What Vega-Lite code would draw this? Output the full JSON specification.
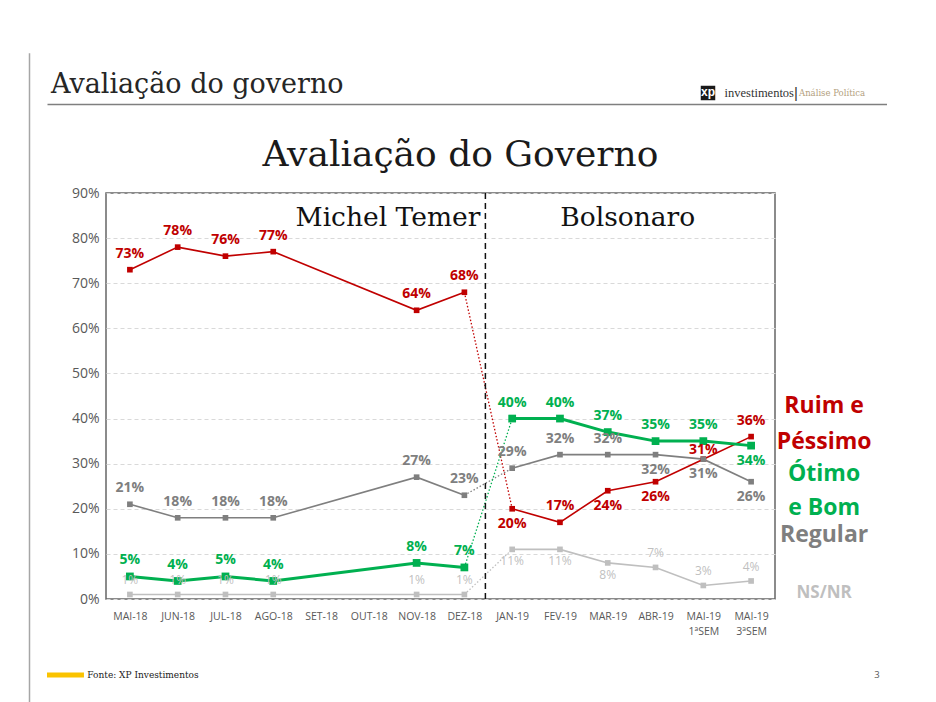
{
  "$schema": "https://vega.github.io/schema/vega-lite/v6.json",
  "background": "white",
  "padding": {"left": 28, "top": 52, "right": 0, "bottom": 0},
  "config": {"view": {"stroke": null}, "font": "Open Sans"},
  "datasets": {
    "avaliacao": [
      {"mes": "MAI-18", "periodo": "Temer", "serie": "Ruim e Péssimo", "valor": 0.73},
      {"mes": "JUN-18", "periodo": "Temer", "serie": "Ruim e Péssimo", "valor": 0.78},
      {"mes": "JUL-18", "periodo": "Temer", "serie": "Ruim e Péssimo", "valor": 0.76},
      {"mes": "AGO-18", "periodo": "Temer", "serie": "Ruim e Péssimo", "valor": 0.77},
      {"mes": "NOV-18", "periodo": "Temer", "serie": "Ruim e Péssimo", "valor": 0.64},
      {"mes": "DEZ-18", "periodo": "Temer", "serie": "Ruim e Péssimo", "valor": 0.68},
      {"mes": "JAN-19", "periodo": "Bolsonaro", "serie": "Ruim e Péssimo", "valor": 0.20},
      {"mes": "FEV-19", "periodo": "Bolsonaro", "serie": "Ruim e Péssimo", "valor": 0.17},
      {"mes": "MAR-19", "periodo": "Bolsonaro", "serie": "Ruim e Péssimo", "valor": 0.24},
      {"mes": "ABR-19", "periodo": "Bolsonaro", "serie": "Ruim e Péssimo", "valor": 0.26},
      {"mes": "MAI-19 1ªSEM", "periodo": "Bolsonaro", "serie": "Ruim e Péssimo", "valor": 0.31},
      {"mes": "MAI-19 3ªSEM", "periodo": "Bolsonaro", "serie": "Ruim e Péssimo", "valor": 0.36},
      {"mes": "MAI-18", "periodo": "Temer", "serie": "Regular", "valor": 0.21},
      {"mes": "JUN-18", "periodo": "Temer", "serie": "Regular", "valor": 0.18},
      {"mes": "JUL-18", "periodo": "Temer", "serie": "Regular", "valor": 0.18},
      {"mes": "AGO-18", "periodo": "Temer", "serie": "Regular", "valor": 0.18},
      {"mes": "NOV-18", "periodo": "Temer", "serie": "Regular", "valor": 0.27},
      {"mes": "DEZ-18", "periodo": "Temer", "serie": "Regular", "valor": 0.23},
      {"mes": "JAN-19", "periodo": "Bolsonaro", "serie": "Regular", "valor": 0.29},
      {"mes": "FEV-19", "periodo": "Bolsonaro", "serie": "Regular", "valor": 0.32},
      {"mes": "MAR-19", "periodo": "Bolsonaro", "serie": "Regular", "valor": 0.32},
      {"mes": "ABR-19", "periodo": "Bolsonaro", "serie": "Regular", "valor": 0.32},
      {"mes": "MAI-19 1ªSEM", "periodo": "Bolsonaro", "serie": "Regular", "valor": 0.31},
      {"mes": "MAI-19 3ªSEM", "periodo": "Bolsonaro", "serie": "Regular", "valor": 0.26},
      {"mes": "MAI-18", "periodo": "Temer", "serie": "NS/NR", "valor": 0.01},
      {"mes": "JUN-18", "periodo": "Temer", "serie": "NS/NR", "valor": 0.01},
      {"mes": "JUL-18", "periodo": "Temer", "serie": "NS/NR", "valor": 0.01},
      {"mes": "AGO-18", "periodo": "Temer", "serie": "NS/NR", "valor": 0.01},
      {"mes": "NOV-18", "periodo": "Temer", "serie": "NS/NR", "valor": 0.01},
      {"mes": "DEZ-18", "periodo": "Temer", "serie": "NS/NR", "valor": 0.01},
      {"mes": "JAN-19", "periodo": "Bolsonaro", "serie": "NS/NR", "valor": 0.11},
      {"mes": "FEV-19", "periodo": "Bolsonaro", "serie": "NS/NR", "valor": 0.11},
      {"mes": "MAR-19", "periodo": "Bolsonaro", "serie": "NS/NR", "valor": 0.08},
      {"mes": "ABR-19", "periodo": "Bolsonaro", "serie": "NS/NR", "valor": 0.07},
      {"mes": "MAI-19 1ªSEM", "periodo": "Bolsonaro", "serie": "NS/NR", "valor": 0.03},
      {"mes": "MAI-19 3ªSEM", "periodo": "Bolsonaro", "serie": "NS/NR", "valor": 0.04},
      {"mes": "MAI-18", "periodo": "Temer", "serie": "Ótimo e Bom", "valor": 0.05},
      {"mes": "JUN-18", "periodo": "Temer", "serie": "Ótimo e Bom", "valor": 0.04},
      {"mes": "JUL-18", "periodo": "Temer", "serie": "Ótimo e Bom", "valor": 0.05},
      {"mes": "AGO-18", "periodo": "Temer", "serie": "Ótimo e Bom", "valor": 0.04},
      {"mes": "NOV-18", "periodo": "Temer", "serie": "Ótimo e Bom", "valor": 0.08},
      {"mes": "DEZ-18", "periodo": "Temer", "serie": "Ótimo e Bom", "valor": 0.07},
      {"mes": "JAN-19", "periodo": "Bolsonaro", "serie": "Ótimo e Bom", "valor": 0.40},
      {"mes": "FEV-19", "periodo": "Bolsonaro", "serie": "Ótimo e Bom", "valor": 0.40},
      {"mes": "MAR-19", "periodo": "Bolsonaro", "serie": "Ótimo e Bom", "valor": 0.37},
      {"mes": "ABR-19", "periodo": "Bolsonaro", "serie": "Ótimo e Bom", "valor": 0.35},
      {"mes": "MAI-19 1ªSEM", "periodo": "Bolsonaro", "serie": "Ótimo e Bom", "valor": 0.35},
      {"mes": "MAI-19 3ªSEM", "periodo": "Bolsonaro", "serie": "Ótimo e Bom", "valor": 0.34}
    ],
    "legenda": [
      {"linha": "Ruim e", "serie": "Ruim e Péssimo", "nivel": 0.428},
      {"linha": "Péssimo", "serie": "Ruim e Péssimo", "nivel": 0.348},
      {"linha": "Ótimo", "serie": "Ótimo e Bom", "nivel": 0.277},
      {"linha": "e Bom", "serie": "Ótimo e Bom", "nivel": 0.202},
      {"linha": "Regular", "serie": "Regular", "nivel": 0.142},
      {"linha": "NS/NR", "serie": "NS/NR", "nivel": 0.013}
    ]
  },
  "spacing": 13,
  "hconcat": [
    {
      "width": 1,
      "height": 639,
      "data": {"values": [{}]},
      "mark": {"type": "rule", "color": "#A6A6A6", "strokeWidth": 1.5},
      "encoding": {
        "y": {"datum": 0, "type": "quantitative", "scale": {"domain": [0, 1]}, "axis": null},
        "y2": {"datum": 1.017}
      }
    },
    {
      "spacing": 32,
      "vconcat": [
        {
          "width": 840,
          "height": 40,
          "data": {"values": [{}]},
          "layer": [
            {
              "mark": {"type": "text", "text": "Avaliação do governo", "font": "DejaVu Serif", "fontSize": 27, "color": "#262626", "align": "left", "baseline": "middle", "dx": 4, "dy": 1},
              "encoding": {
                "x": {
                  "datum": 0,
                  "type": "quantitative",
                  "scale": {"domain": [0, 1]},
                  "axis": {"domain": true, "domainColor": "#7F7F7F", "domainWidth": 1.5, "ticks": false, "labels": false, "grid": false, "title": null}
                }
              }
            },
            {
              "mark": {"type": "square", "size": 210, "color": "#1a1a1a", "opacity": 1, "filled": true, "xOffset": -179, "yOffset": 9},
              "encoding": {"x": {"datum": 1, "type": "quantitative"}}
            },
            {
              "mark": {"type": "text", "text": "xp", "font": "Liberation Sans", "fontWeight": "bold", "fontSize": 12, "color": "white", "dx": -179, "dy": 8},
              "encoding": {"x": {"datum": 1, "type": "quantitative"}}
            },
            {
              "mark": {"type": "text", "text": "investimentos", "font": "Liberation Sans Narrow", "fontSize": 12.5, "color": "#333333", "align": "right", "dx": -93, "dy": 9},
              "encoding": {"x": {"datum": 1, "type": "quantitative"}}
            },
            {
              "mark": {"type": "text", "text": "|", "font": "Liberation Sans", "fontSize": 15, "color": "#333333", "align": "center", "dx": -91, "dy": 9},
              "encoding": {"x": {"datum": 1, "type": "quantitative"}}
            },
            {
              "mark": {"type": "text", "text": "Análise Política", "font": "DejaVu Serif", "fontSize": 8.5, "color": "#B3A07E", "align": "left", "dx": -88, "dy": 9},
              "encoding": {"x": {"datum": 1, "type": "quantitative"}}
            }
          ]
        },
        {
          "spacing": 0,
          "bounds": "flush",
          "hconcat": [
            {
              "width": 59,
              "height": 406,
              "data": {"values": []},
              "mark": "point"
            },
            {
              "width": 669,
              "height": 406,
              "view": {"stroke": "#666666", "strokeWidth": 1.5},
              "title": {
                "text": "Avaliação do Governo",
                "font": "DejaVu Serif",
                "fontSize": 36,
                "fontWeight": "normal",
                "color": "#1a1a1a",
                "anchor": "middle",
                "frame": "group",
                "dx": 20,
                "baseline": "alphabetic",
                "offset": -16
              },
              "data": {"name": "avaliacao"},
              "layer": [
                {
                  "mark": {"type": "line"},
                  "encoding": {
                    "x": {
                      "field": "mes",
                      "type": "ordinal",
                      "sort": ["MAI-18", "JUN-18", "JUL-18", "AGO-18", "SET-18", "OUT-18", "NOV-18", "DEZ-18", "JAN-19", "FEV-19", "MAR-19", "ABR-19", "MAI-19 1ªSEM", "MAI-19 3ªSEM"],
                      "scale": {
                        "type": "point",
                        "padding": 0.5,
                        "domain": ["MAI-18", "JUN-18", "JUL-18", "AGO-18", "SET-18", "OUT-18", "NOV-18", "DEZ-18", "JAN-19", "FEV-19", "MAR-19", "ABR-19", "MAI-19 1ªSEM", "MAI-19 3ªSEM"]
                      },
                      "axis": {
                        "title": null,
                        "ticks": false,
                        "domain": false,
                        "grid": false,
                        "labelAngle": 0,
                        "labelColor": "#595959",
                        "labelFontSize": 10.5,
                        "labelPadding": 12,
                        "labelLineHeight": 15,
                        "labelExpr": "split(datum.label, ' ')"
                      }
                    },
                    "y": {
                      "field": "valor",
                      "type": "quantitative",
                      "scale": {"domain": [0, 0.9]},
                      "axis": {
                        "title": null,
                        "values": [0, 0.1, 0.2, 0.3, 0.4, 0.5, 0.6, 0.7, 0.8, 0.9],
                        "format": ".0%",
                        "ticks": false,
                        "domain": false,
                        "grid": true,
                        "gridColor": "#D9D9D9",
                        "gridDash": [4, 3],
                        "labelColor": "#595959",
                        "labelFontSize": 14,
                        "labelPadding": 7
                      }
                    },
                    "color": {
                      "field": "serie",
                      "type": "nominal",
                      "scale": {
                        "domain": ["Ruim e Péssimo", "Ótimo e Bom", "Regular", "NS/NR"],
                        "range": ["#C00000", "#00B050", "#7F7F7F", "#BFBFBF"]
                      },
                      "legend": null
                    },
                    "detail": {"field": "periodo"},
                    "strokeWidth": {"condition": {"test": "datum.serie == 'Ótimo e Bom'", "value": 3}, "value": 1.6}
                  }
                },
                {
                  "transform": [{"filter": {"field": "mes", "oneOf": ["DEZ-18", "JAN-19"]}}],
                  "mark": {"type": "line", "strokeDash": [1.5, 2], "strokeWidth": 1.3},
                  "encoding": {
                    "x": {"field": "mes", "type": "ordinal"},
                    "y": {"field": "valor", "type": "quantitative"},
                    "color": {"field": "serie", "type": "nominal", "legend": null}
                  }
                },
                {
                  "mark": {"type": "point", "shape": "square", "filled": true, "opacity": 1},
                  "encoding": {
                    "x": {"field": "mes", "type": "ordinal"},
                    "y": {"field": "valor", "type": "quantitative"},
                    "color": {"field": "serie", "type": "nominal", "legend": null},
                    "size": {"condition": {"test": "datum.serie == 'Ótimo e Bom'", "value": 60}, "value": 32}
                  }
                },
                {
                  "data": {"values": [{}]},
                  "mark": {"type": "rule", "xOffset": 21, "strokeDash": [6, 4], "strokeWidth": 1.5, "color": "#111111"},
                  "encoding": {"x": {"datum": "DEZ-18", "type": "ordinal"}}
                },
                {
                  "transform": [{"filter": "datum.serie != 'NS/NR' && !(datum.serie == 'Ruim e Péssimo' && datum.mes == 'MAI-19 1ªSEM') && !((datum.serie == 'Ruim e Péssimo' && indexof(['JAN-19','MAR-19','ABR-19'], datum.mes) >= 0) || (datum.serie == 'Ótimo e Bom' && datum.mes == 'MAI-19 3ªSEM') || (datum.serie == 'Regular' && indexof(['ABR-19','MAI-19 1ªSEM','MAI-19 3ªSEM'], datum.mes) >= 0))"}],
                  "mark": {"type": "text", "fontWeight": "bold", "fontSize": 14, "baseline": "middle", "dy": -16},
                  "encoding": {
                    "x": {"field": "mes", "type": "ordinal"},
                    "y": {"field": "valor", "type": "quantitative"},
                    "text": {"field": "valor", "format": ".0%"},
                    "color": {"field": "serie", "type": "nominal", "legend": null}
                  }
                },
                {
                  "transform": [{"filter": "datum.serie == 'Ruim e Péssimo' && datum.mes == 'MAI-19 1ªSEM'"}],
                  "mark": {"type": "text", "fontWeight": "bold", "fontSize": 14, "baseline": "middle", "dy": -9},
                  "encoding": {
                    "x": {"field": "mes", "type": "ordinal"},
                    "y": {"field": "valor", "type": "quantitative"},
                    "text": {"field": "valor", "format": ".0%"},
                    "color": {"field": "serie", "type": "nominal", "legend": null}
                  }
                },
                {
                  "transform": [{"filter": "(datum.serie == 'Ruim e Péssimo' && indexof(['JAN-19','MAR-19','ABR-19'], datum.mes) >= 0) || (datum.serie == 'Ótimo e Bom' && datum.mes == 'MAI-19 3ªSEM') || (datum.serie == 'Regular' && indexof(['ABR-19','MAI-19 1ªSEM','MAI-19 3ªSEM'], datum.mes) >= 0)"}],
                  "mark": {"type": "text", "fontWeight": "bold", "fontSize": 14, "baseline": "middle", "dy": 15},
                  "encoding": {
                    "x": {"field": "mes", "type": "ordinal"},
                    "y": {"field": "valor", "type": "quantitative"},
                    "text": {"field": "valor", "format": ".0%"},
                    "color": {"field": "serie", "type": "nominal", "legend": null}
                  }
                },
                {
                  "transform": [{"filter": "datum.serie == 'NS/NR' && indexof(['JAN-19','FEV-19','MAR-19'], datum.mes) < 0"}],
                  "mark": {"type": "text", "fontSize": 12, "baseline": "middle", "dy": -14},
                  "encoding": {
                    "x": {"field": "mes", "type": "ordinal"},
                    "y": {"field": "valor", "type": "quantitative"},
                    "text": {"field": "valor", "format": ".0%"},
                    "color": {"field": "serie", "type": "nominal", "legend": null}
                  }
                },
                {
                  "transform": [{"filter": "datum.serie == 'NS/NR' && indexof(['JAN-19','FEV-19','MAR-19'], datum.mes) >= 0"}],
                  "mark": {"type": "text", "fontSize": 12, "baseline": "middle", "dy": 12},
                  "encoding": {
                    "x": {"field": "mes", "type": "ordinal"},
                    "y": {"field": "valor", "type": "quantitative"},
                    "text": {"field": "valor", "format": ".0%"},
                    "color": {"field": "serie", "type": "nominal", "legend": null}
                  }
                },
                {
                  "data": {"values": [{}]},
                  "mark": {"type": "text", "text": "Michel Temer", "font": "DejaVu Serif", "fontSize": 26.5, "align": "right", "baseline": "middle", "dx": 16, "color": "#111111"},
                  "encoding": {
                    "x": {"datum": "DEZ-18", "type": "ordinal"},
                    "y": {"datum": 0.845, "type": "quantitative"}
                  }
                },
                {
                  "data": {"values": [{}]},
                  "mark": {"type": "text", "text": "Bolsonaro", "font": "DejaVu Serif", "fontSize": 26.5, "align": "center", "baseline": "middle", "dx": 20, "color": "#111111"},
                  "encoding": {
                    "x": {"datum": "MAR-19", "type": "ordinal"},
                    "y": {"datum": 0.845, "type": "quantitative"}
                  }
                },
                {
                  "data": {"name": "legenda"},
                  "mark": {"type": "text", "fontWeight": "bold", "align": "center", "baseline": "middle", "dx": 73},
                  "encoding": {
                    "x": {"datum": "MAI-19 3ªSEM", "type": "ordinal"},
                    "y": {"field": "nivel", "type": "quantitative"},
                    "text": {"field": "linha"},
                    "color": {"field": "serie", "type": "nominal", "legend": null},
                    "size": {"condition": {"test": "datum.serie == 'NS/NR'", "value": 17}, "value": 23}
                  }
                }
              ]
            }
          ]
        },
        {
          "width": 840,
          "height": 4,
          "data": {"values": [{}]},
          "layer": [
            {
              "mark": {"type": "rule", "color": "#FAC300", "strokeWidth": 5},
              "encoding": {
                "x": {"datum": 0, "type": "quantitative", "scale": {"domain": [0, 100]}, "axis": null},
                "x2": {"datum": 4.4},
                "y": {"datum": 0.5, "type": "quantitative", "scale": {"domain": [0, 1]}, "axis": null}
              }
            },
            {
              "mark": {"type": "text", "text": "Fonte: XP Investimentos", "font": "DejaVu Serif", "fontSize": 9, "align": "left", "baseline": "middle", "color": "#1a1a1a"},
              "encoding": {
                "x": {"datum": 4.8, "type": "quantitative"},
                "y": {"datum": 0.5, "type": "quantitative"}
              }
            },
            {
              "mark": {"type": "text", "text": "3", "fontSize": 9.5, "align": "center", "baseline": "middle", "color": "#595959"},
              "encoding": {
                "x": {"datum": 98.8, "type": "quantitative"},
                "y": {"datum": 0.5, "type": "quantitative"}
              }
            }
          ]
        }
      ]
    }
  ]
}
